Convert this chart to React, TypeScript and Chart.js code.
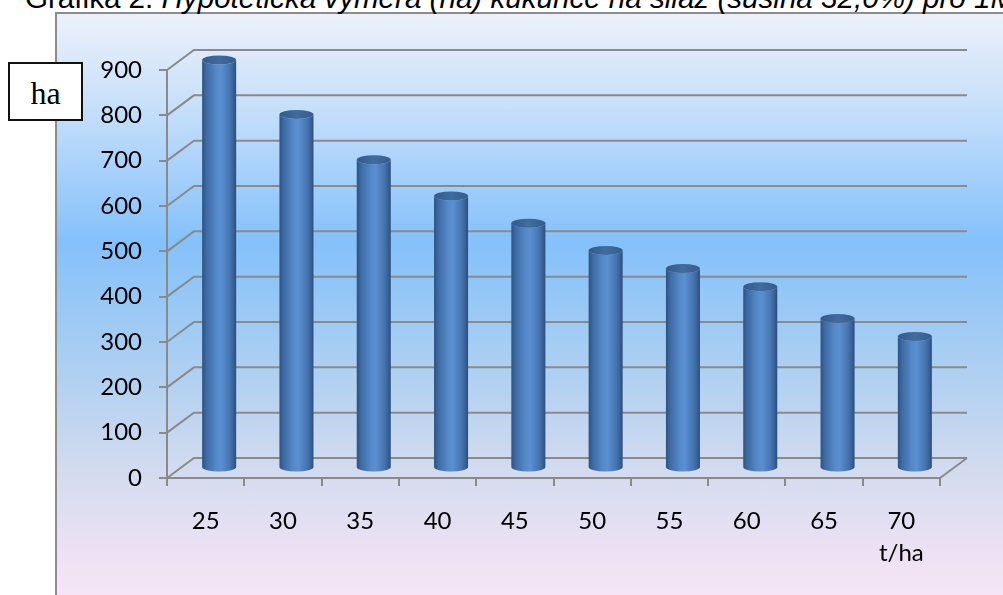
import React, { useEffect, useRef } from 'react';
import { Chart, registerables } from 'chart.js';

Chart.register(...registerables);

// Yield categories (t/ha) and the resulting area (ha)
const yieldLabels = ['25', '30', '35', '40', '45', '50', '55', '60', '65', '70'];
const areaHa = [900, 780, 680, 600, 540, 480, 440, 400, 330, 290];
const yMax = 900;
const yStep = 100;
const xUnit = 't/ha';
const yUnit = 'ha';
const titlePlain = 'Grafika 2. ';
const titleItalic = 'Hypotetická výměra (ha) kukuřice na siláž (sušina 32,0%) pro 1MW';

// Pseudo-3D depth of the back wall relative to the front axes
const DEPTH_X = 27;
const DEPTH_Y = -20;
const GRID = '#8a8a8a';
const TICK_FONT = { family: 'Lato', size: 24 };

const depthPlugin = {
  id: 'depth3d',
  beforeDatasetsDraw(chart: any) {
    const { ctx, chartArea: a, scales } = chart;
    const y = scales.y;
    ctx.save();
    ctx.strokeStyle = GRID;
    ctx.lineWidth = 2;
    // back wall grid lines joined to the front axis ticks
    y.ticks.forEach((t: any) => {
      const py = y.getPixelForValue(t.value);
      ctx.beginPath();
      ctx.moveTo(a.left, py);
      ctx.lineTo(a.left + DEPTH_X, py + DEPTH_Y);
      ctx.lineTo(a.right + DEPTH_X, py + DEPTH_Y);
      ctx.stroke();
    });
    // right edge of the floor
    ctx.beginPath();
    ctx.moveTo(a.right, a.bottom);
    ctx.lineTo(a.right + DEPTH_X, a.bottom + DEPTH_Y);
    ctx.stroke();
    ctx.restore();
  },
  afterDatasetsDraw(chart: any) {
    const ctx = chart.ctx;
    const meta = chart.getDatasetMeta(0);
    meta.data.forEach((el: any) => {
      const { x, y, base, width } = el.getProps(['x', 'y', 'base', 'width'], true);
      const cx = x + DEPTH_X / 2;
      const top = y + DEPTH_Y / 2;
      const bot = base + DEPTH_Y / 2;
      const rx = width / 2;
      const ry = 4.5;
      const xl = cx - rx;
      const xr = cx + rx;

      ctx.save();
      // cylinder body
      const g = ctx.createLinearGradient(xl, 0, xr, 0);
      g.addColorStop(0, '#2c5283');
      g.addColorStop(0.12, '#3d6aa3');
      g.addColorStop(0.4, '#5488c7');
      g.addColorStop(0.55, '#5a8fd1');
      g.addColorStop(0.8, '#4676b2');
      g.addColorStop(0.93, '#375f93');
      g.addColorStop(1, '#2a4c78');
      ctx.beginPath();
      ctx.moveTo(xl, top);
      ctx.lineTo(xl, bot);
      ctx.ellipse(cx, bot, rx, ry, 0, Math.PI, 0, true);
      ctx.lineTo(xr, top);
      ctx.ellipse(cx, top, rx, ry, 0, 0, Math.PI, false);
      ctx.closePath();
      ctx.fillStyle = g;
      ctx.fill();

      // cylinder cap
      const gt = ctx.createLinearGradient(xl, 0, xr, 0);
      gt.addColorStop(0, '#33598a');
      gt.addColorStop(0.5, '#416c9f');
      gt.addColorStop(1, '#355c8c');
      ctx.beginPath();
      ctx.ellipse(cx, top, rx, ry, 0, 0, Math.PI * 2);
      ctx.fillStyle = gt;
      ctx.fill();
      ctx.restore();
    });
  },
};

export default function App() {
  const canvasRef = useRef<HTMLCanvasElement>(null);

  useEffect(() => {
    const canvas = canvasRef.current;
    if (!canvas) return;
    const chart = new Chart(canvas, {
      type: 'bar',
      data: {
        labels: yieldLabels,
        datasets: [
          {
            data: areaHa,
            backgroundColor: 'rgba(0,0,0,0)',
            borderWidth: 0,
            barPercentage: 0.44,
            categoryPercentage: 1,
          },
        ],
      },
      options: {
        responsive: false,
        devicePixelRatio: 1,
        animation: false,
        events: [],
        layout: { padding: { left: 67, right: 63, top: 70, bottom: 27 } },
        plugins: {
          legend: { display: false },
          tooltip: { enabled: false },
          title: { display: false },
        },
        scales: {
          x: {
            afterFit: (s: any) => {
              s.height = 90;
            },
            grid: {
              offset: true,
              drawOnChartArea: false,
              drawTicks: true,
              tickLength: 8,
              color: GRID,
              lineWidth: 2,
            },
            border: { display: true, color: GRID, width: 2 },
            ticks: {
              color: '#000',
              font: { ...TICK_FONT, lineHeight: 1.33 },
              padding: 19,
              maxRotation: 0,
              autoSkip: false,
              callback: (_v: any, i: number) =>
                i === yieldLabels.length - 1 ? [yieldLabels[i], xUnit] : yieldLabels[i],
            },
          },
          y: {
            min: 0,
            max: yMax,
            afterFit: (s: any) => {
              s.width = 100;
            },
            grid: {
              drawOnChartArea: false,
              drawTicks: true,
              tickLength: 8,
              color: GRID,
              lineWidth: 2,
            },
            border: { display: true, color: GRID, width: 2 },
            ticks: {
              stepSize: yStep,
              color: '#000',
              font: TICK_FONT,
              padding: 17,
            },
          },
        },
      },
      plugins: [depthPlugin],
    } as any);
    return () => chart.destroy();
  }, []);

  return (
    <div
      style={{
        position: 'fixed',
        left: 0,
        top: 0,
        width: 1003,
        height: 595,
        overflow: 'hidden',
        background: '#fff',
      }}
    >
      <div
        style={{
          position: 'absolute',
          left: 55,
          top: 12,
          width: 1003,
          height: 600,
          borderLeft: '2px solid #8c8c8c',
          borderTop: '2px solid #8c8c8c',
          background:
            'linear-gradient(180deg, #ecf1fa 0%, #c8e0fa 15%, #84c1fa 38%, #afd0f1 60%, #d7dcef 78%, #ece2f4 90%, #fae6f6 100%)',
        }}
      />
      <div
        style={{
          position: 'absolute',
          left: 25,
          top: -17,
          whiteSpace: 'nowrap',
          fontFamily: '"Liberation Sans", Arial, sans-serif',
          fontSize: 29.6,
          lineHeight: '29px',
          color: '#000',
        }}
      >
        {titlePlain}
        <i>{titleItalic}</i>
      </div>
      <canvas
        ref={canvasRef}
        width={1003}
        height={595}
        style={{ position: 'absolute', left: 0, top: 0 }}
      />
      <div
        style={{
          position: 'absolute',
          left: 8,
          top: 62,
          width: 71,
          height: 55,
          border: '2px solid #111',
          background: '#fff',
          fontFamily: '"Liberation Serif", "Times New Roman", serif',
          fontSize: 32,
          lineHeight: '58px',
          textAlign: 'center',
          color: '#000',
        }}
      >
        {yUnit}
      </div>
    </div>
  );
}
